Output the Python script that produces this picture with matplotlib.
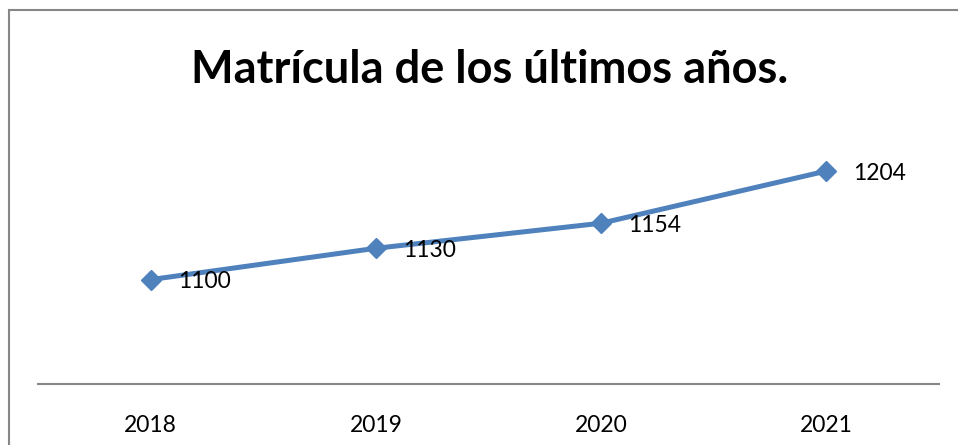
import matplotlib.pyplot as plt
from matplotlib.patches import Rectangle

years = ["2018", "2019", "2020", "2021"]
matricula = [1100, 1130, 1154, 1204]

plt.rcParams['font.family'] = ['Lato', 'DejaVu Sans']

fig = plt.figure(figsize=(9.58, 4.45), dpi=100)
ax = fig.add_axes([38 / 958, 61 / 445, 901 / 958, 261 / 445])

x = list(range(len(years)))
ax.plot(x, matricula, color="#4F81BD", linewidth=3.6, marker="D", markersize=10,
        markerfacecolor="#4F81BD", markeredgecolor="#4F81BD")

for xi, v in zip(x, matricula):
    ax.annotate(str(v), (xi, v), xytext=(27, -2), textcoords="offset pixels",
                ha="left", va="center", fontsize=16.5, color="black")

ax.set_xlim(-0.5, 3.5)
ax.set_ylim(1000, 1250)
ax.set_xticks(x)
ax.set_xticklabels(years, fontsize=16.5)
ax.set_yticks([])
ax.tick_params(axis="x", length=0, pad=22)
for side in ["left", "right", "top"]:
    ax.spines[side].set_visible(False)
ax.spines["bottom"].set_color("#868686")
ax.spines["bottom"].set_linewidth(1.5)

fig.text(490 / 958, 1 - 70 / 445, "Matrícula de los últimos años.", ha="center", va="center",
         fontsize=32.5, fontweight="bold")

fig.patches.append(Rectangle((8.5 / 958, -0.1), 1.2, (445 - 10.5) / 445 + 0.1,
                             transform=fig.transFigure, fill=False,
                             edgecolor="#868686", linewidth=1.5))

fig.savefig("out.png", dpi=100)
